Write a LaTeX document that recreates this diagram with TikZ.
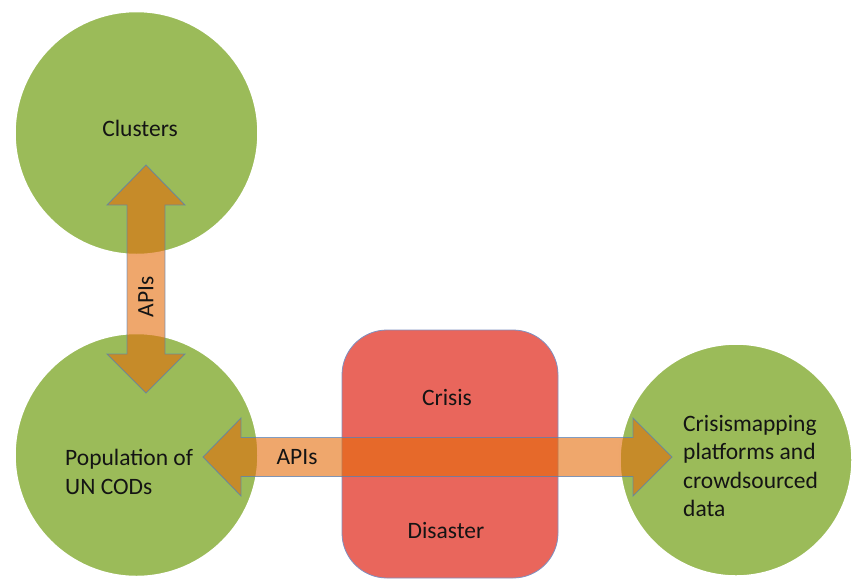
\documentclass[tikz,border=0pt]{standalone}
\usepackage{fontspec}
\setmainfont{Carlito}
\definecolor{cgreen}{HTML}{9BBB59}
\definecolor{cred}{HTML}{E9665C}
\definecolor{corange}{HTML}{E46C0A}
\definecolor{cedge}{HTML}{4F81BD}
\definecolor{credge}{HTML}{8090C0}
\definecolor{ctext}{HTML}{141414}
\tikzset{
  bubble/.style={circle, fill=cgreen, draw=white, line width=2.5pt, inner sep=0pt},
  phase/.style={rectangle, rounded corners=45pt, fill=cred, draw=credge, line width=0.8pt, inner sep=0pt},
  fatarrow/.style={fill=corange, fill opacity=0.6, draw=cedge, draw opacity=0.7, line width=0.9pt, line join=miter},
  lbl/.style={text=ctext, font=\fontsize{23.5}{28.5}\selectfont, inner sep=0pt}
}
\begin{document}
\begin{tikzpicture}[x=1pt,y=-1pt]
\useasboundingbox (0,0) rectangle (854,579);
\begin{scope}
\clip (0,0) rectangle (854,579);
% circles
\node[bubble, minimum size=244pt] (clusters) at (136.5,133) {};
\node[bubble, minimum size=244pt] (pop) at (136.5,455) {};
\node[bubble, minimum size=233pt] (crowd) at (736,460) {};
% red box
\node[phase, minimum width=216pt, minimum height=248pt] (crisis) at (450,454) {};
% vertical double arrow
\coordinate (vt) at (146,165);
\coordinate (vb) at (146,393);
\draw[fatarrow] (vt) -- ++(39,40) -- ++(-20,0) -- (165,354) -- ++(20,0) -- (vb)
  -- ++(-39,-39) -- ++(20,0) -- (127,205) -- ++(-20,0) -- cycle;
% horizontal double arrow
\coordinate (hl) at (203,457);
\coordinate (hr) at (672,457);
\draw[fatarrow] (hl) -- ++(38,-39) -- ++(0,19.5) -- (633,437.5) -- ++(0,-19.5) -- (hr)
  -- ++(-39,39) -- ++(0,-19.5) -- (241,476.5) -- ++(0,19.5) -- cycle;
\end{scope}
% labels
\node[lbl] (tclusters) at (140,128) {Clusters};
\node[lbl, align=left, anchor=west] (tpop) at (65,472) {Population of\\UN CODs};
\node[lbl, align=left, anchor=west] (tcrowd) at (683,466) {Crisismapping\\platforms and\\crowdsourced\\data};
\node[lbl] (tcrisis) at (447,397) {Crisis};
\node[lbl] (tdis) at (446,530) {Disaster};
\node[lbl] (tapih) at (297,457) {APIs};
\node[lbl, rotate=90] (tapiv) at (146,297) {APIs};
\end{tikzpicture}
\end{document}
